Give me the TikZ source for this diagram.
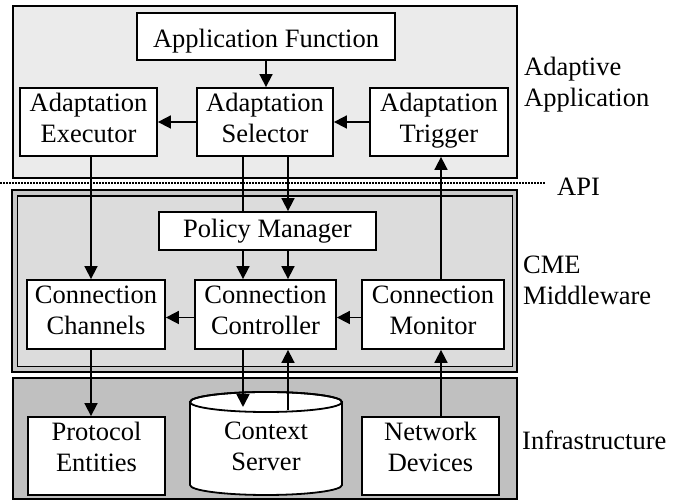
\documentclass[tikz,border=0pt]{standalone}
\usepackage{fontspec}
\setmainfont{Liberation Serif}
\usetikzlibrary{arrows.meta}
\definecolor{topfill}{HTML}{EBEBEB}
\definecolor{midouter}{HTML}{C8C8C8}
\definecolor{midinner}{HTML}{DCDCDC}
\definecolor{botfill}{HTML}{C0C0C0}
\begin{document}
\begin{tikzpicture}[x=1pt,y=1pt,
  txt/.style={font=\fontsize{26.5}{31}\selectfont},
  box/.style={txt, draw, fill=white, line width=1.8pt, inner sep=0pt, align=center,
    execute at begin node=\strut, execute at end node=\strut},
  lowtext/.style={execute at begin node={\rule{0pt}{31.7pt}\strut}},
  hightext/.style={execute at end node={\strut\rule[-19.3pt]{0pt}{0pt}}},
  lbl/.style={txt, anchor=west, inner sep=0pt, align=left},
  arr/.style={line width=1.7pt, -{Triangle[length=13pt,width=13pt]}},
  ln/.style={line width=1.7pt},
  container/.style={draw, line width=1.8pt}]
\useasboundingbox (0,0) rectangle (688,502);
% containers
\draw[container, fill=topfill] (13,496) rectangle (517,324);
\draw[container, fill=midouter, line width=2.6pt] (12,312) rectangle (517,130);
\draw[container, fill=midinner, line width=1.4pt] (17.5,306) rectangle (512.5,135.5);
\draw[container, fill=botfill] (13,124) rectangle (517,3);
% API line
\draw[line width=1.5pt, dash pattern=on 1.5pt off 1.5pt] (0,319) -- (545,319);
% labels
\node[lbl] (lapp) at (524,417) {Adaptive\\Application};
\node[lbl] (lapi) at (557,315) {API};
\node[lbl] (lcme) at (523,222) {CME\\Middleware};
\node[lbl] (linf) at (522,62) {Infrastructure};
% nodes
\node[box, lowtext, minimum width=258pt, minimum height=47pt] (af) at (266,465.5) {Application Function};
\node[box, minimum width=137pt, minimum height=68pt] (ae) at (88.5,380) {Adaptation\\Executor};
\node[box, minimum width=136pt, minimum height=68pt] (as) at (265,380) {Adaptation\\Selector};
\node[box, minimum width=138pt, minimum height=68pt] (at) at (439,380) {Adaptation\\Trigger};
\node[box, minimum width=217pt, minimum height=38pt] (pm) at (267.5,271) {Policy Manager};
\node[box, minimum width=138pt, minimum height=69pt] (cch) at (96,187.5) {Connection\\Channels};
\node[box, minimum width=141pt, minimum height=69pt] (cct) at (265.5,187.5) {Connection\\Controller};
\node[box, minimum width=142pt, minimum height=69pt] (cm) at (433,187.5) {Connection\\Monitor};
\node[box, hightext, minimum width=137pt, minimum height=78pt] (pe) at (96.5,46) {Protocol\\Entities};
\node[box, hightext, minimum width=137pt, minimum height=78pt] (nd) at (430.5,46) {Network\\Devices};
% context server cylinder
\draw[fill=white, line width=1.8pt] (190,100) -- (190,17)
  arc[start angle=180, end angle=360, x radius=76, y radius=10] -- (342,100)
  arc[start angle=0, end angle=180, x radius=76, y radius=10] -- cycle;
\draw[line width=1.8pt] (266,100) ellipse[x radius=76, y radius=10];
\node[txt, inner sep=0pt, align=center, execute at begin node=\strut, hightext] (cs) at (266,46) {Context\\Server};
\coordinate (csin) at (243,95);
\coordinate (csout) at (288,92);
\coordinate (xl) at (91,0);
\coordinate (xr) at (441,0);
% connectors
\draw[arr] (af.south) -- (af.south |- as.north);
\draw[arr] (as.west) -- (ae.east);
\draw[arr] (at.west) -- (as.east);
\draw[arr] (ae.south -| xl) -- (cch.north -| xl);
\draw[arr] (cch.south -| xl) -- (pe.north -| xl);
\draw[arr] (cm.north -| xr) -- (at.south -| xr);
\draw[arr] (nd.north -| xr) -- (cm.south -| xr);
\draw[ln] (as.south -| csin) -- (pm.north -| csin);
\draw[arr] (as.south -| csout) -- (pm.north -| csout);
\draw[arr] (pm.south -| csin) -- (cct.north -| csin);
\draw[arr] (pm.south -| csout) -- (cct.north -| csout);
\draw[arr] (cct.south -| csin) -- (csin);
\draw[arr] (csout) -- (cct.south -| csout);
\draw[arr] ([yshift=-3pt]cct.west) -- ([yshift=-3pt]cch.east);
\draw[arr] ([yshift=-3pt]cm.west) -- ([yshift=-3pt]cct.east);
\end{tikzpicture}
\end{document}
